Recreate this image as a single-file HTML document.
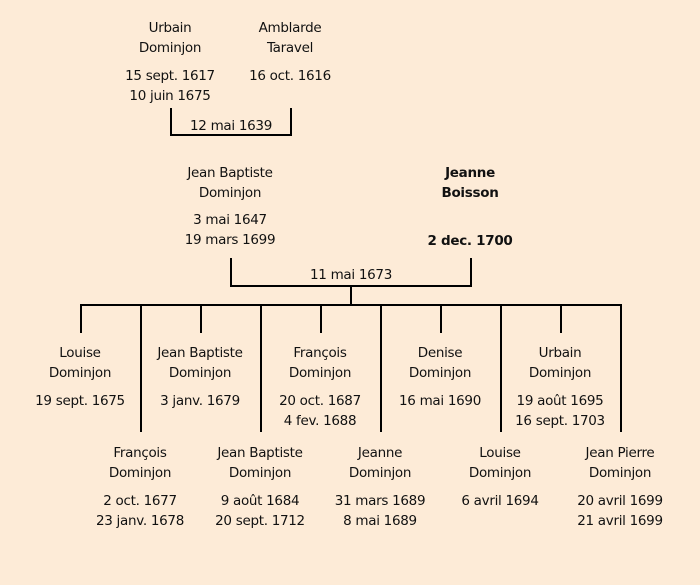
<!DOCTYPE html>
<html><head><meta charset="utf-8"><style>
body{margin:0;width:700px;height:585px;background:#fdebd7;position:relative;overflow:hidden;font-family:"DejaVu Sans","Liberation Sans",sans-serif;font-size:13.5px;color:#111}
.t{position:absolute;width:160px;height:20px;line-height:22px;text-align:center;white-space:nowrap;letter-spacing:-0.3px}
.b{font-weight:bold}
.l{position:absolute;background:#000}
</style></head><body>
<div class="l" style="left:170px;top:108px;width:2px;height:28px"></div>
<div class="l" style="left:290px;top:108px;width:2px;height:28px"></div>
<div class="l" style="left:170px;top:134px;width:122px;height:2px"></div>
<div class="l" style="left:230px;top:258px;width:2px;height:29px"></div>
<div class="l" style="left:470px;top:258px;width:2px;height:29px"></div>
<div class="l" style="left:230px;top:285px;width:242px;height:2px"></div>
<div class="l" style="left:350px;top:285px;width:2px;height:21px"></div>
<div class="l" style="left:80px;top:304px;width:542px;height:2px"></div>
<div class="l" style="left:80px;top:304px;width:2px;height:29px"></div>
<div class="l" style="left:200px;top:304px;width:2px;height:29px"></div>
<div class="l" style="left:320px;top:304px;width:2px;height:29px"></div>
<div class="l" style="left:440px;top:304px;width:2px;height:29px"></div>
<div class="l" style="left:560px;top:304px;width:2px;height:29px"></div>
<div class="l" style="left:140px;top:304px;width:2px;height:128px"></div>
<div class="l" style="left:260px;top:304px;width:2px;height:128px"></div>
<div class="l" style="left:380px;top:304px;width:2px;height:128px"></div>
<div class="l" style="left:500px;top:304px;width:2px;height:128px"></div>
<div class="l" style="left:620px;top:304px;width:2px;height:128px"></div>

<div class="t" style="left:90px;top:17px">Urbain</div>
<div class="t" style="left:90px;top:37px">Dominjon</div>
<div class="t" style="left:90px;top:65px">15 sept. 1617</div>
<div class="t" style="left:90px;top:85px">10 juin 1675</div>
<div class="t" style="left:210px;top:17px">Amblarde</div>
<div class="t" style="left:210px;top:37px">Taravel</div>
<div class="t" style="left:210px;top:65px">16 oct. 1616</div>
<div class="t" style="left:151px;top:115px">12 mai 1639</div>

<div class="t" style="left:150px;top:162px">Jean Baptiste</div>
<div class="t" style="left:150px;top:182px">Dominjon</div>
<div class="t" style="left:150px;top:209px">3 mai 1647</div>
<div class="t" style="left:150px;top:229px">19 mars 1699</div>
<div class="t b" style="left:390px;top:162px">Jeanne</div>
<div class="t b" style="left:390px;top:182px">Boisson</div>
<div class="t b" style="left:390px;top:230px">2 dec. 1700</div>
<div class="t" style="left:271px;top:264px">11 mai 1673</div>

<div class="t" style="left:0px;top:342px">Louise</div>
<div class="t" style="left:0px;top:362px">Dominjon</div>
<div class="t" style="left:0px;top:390px">19 sept. 1675</div>
<div class="t" style="left:120px;top:342px">Jean Baptiste</div>
<div class="t" style="left:120px;top:362px">Dominjon</div>
<div class="t" style="left:120px;top:390px">3 janv. 1679</div>
<div class="t" style="left:240px;top:342px">François</div>
<div class="t" style="left:240px;top:362px">Dominjon</div>
<div class="t" style="left:240px;top:390px">20 oct. 1687</div>
<div class="t" style="left:240px;top:410px">4 fev. 1688</div>
<div class="t" style="left:360px;top:342px">Denise</div>
<div class="t" style="left:360px;top:362px">Dominjon</div>
<div class="t" style="left:360px;top:390px">16 mai 1690</div>
<div class="t" style="left:480px;top:342px">Urbain</div>
<div class="t" style="left:480px;top:362px">Dominjon</div>
<div class="t" style="left:480px;top:390px">19 août 1695</div>
<div class="t" style="left:480px;top:410px">16 sept. 1703</div>

<div class="t" style="left:60px;top:442px">François</div>
<div class="t" style="left:60px;top:462px">Dominjon</div>
<div class="t" style="left:60px;top:490px">2 oct. 1677</div>
<div class="t" style="left:60px;top:510px">23 janv. 1678</div>
<div class="t" style="left:180px;top:442px">Jean Baptiste</div>
<div class="t" style="left:180px;top:462px">Dominjon</div>
<div class="t" style="left:180px;top:490px">9 août 1684</div>
<div class="t" style="left:180px;top:510px">20 sept. 1712</div>
<div class="t" style="left:300px;top:442px">Jeanne</div>
<div class="t" style="left:300px;top:462px">Dominjon</div>
<div class="t" style="left:300px;top:490px">31 mars 1689</div>
<div class="t" style="left:300px;top:510px">8 mai 1689</div>
<div class="t" style="left:420px;top:442px">Louise</div>
<div class="t" style="left:420px;top:462px">Dominjon</div>
<div class="t" style="left:420px;top:490px">6 avril 1694</div>
<div class="t" style="left:540px;top:442px">Jean Pierre</div>
<div class="t" style="left:540px;top:462px">Dominjon</div>
<div class="t" style="left:540px;top:490px">20 avril 1699</div>
<div class="t" style="left:540px;top:510px">21 avril 1699</div>
</body></html>
